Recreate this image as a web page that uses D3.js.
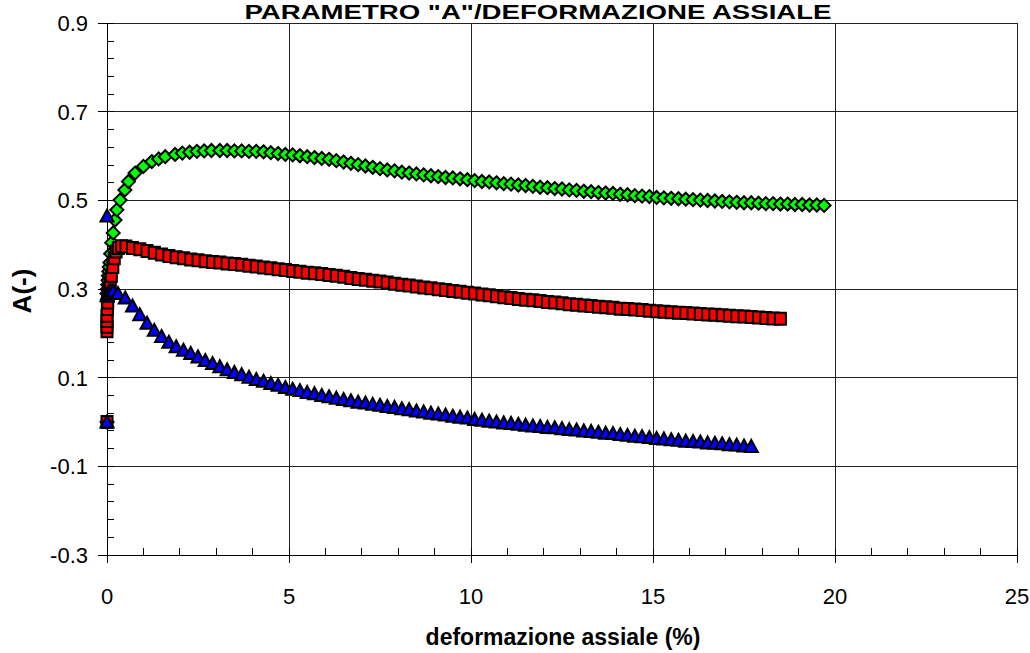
<!DOCTYPE html>
<html><head><meta charset="utf-8">
<script src="https://cdn.jsdelivr.net/npm/d3@7"></script>
<style>
html,body{margin:0;padding:0;background:#fff;}
svg{display:block;font-family:"Liberation Sans",Arial,sans-serif;}
</style></head><body>
<svg id="c" width="1030" height="653"></svg>
<script>
// ---------- data ----------
const titleText = 'PARAMETRO "A"/DEFORMAZIONE ASSIALE';
const xLabel = "deformazione assiale (%)";
const yLabel = "A(-)";
const xTicks = [0, 5, 10, 15, 20, 25];
const yTicks = [-0.3, -0.1, 0.1, 0.3, 0.5, 0.7, 0.9];

const greenX = [0, 0, 0.01, 0.02, 0.03, 0.04, 0.05, 0.06, 0.08, 0.1, 0.13, 0.17, 0.22, 0.27, 0.36, 0.49, 0.59, 0.77, 1.0, 1.23, 1.42, 1.6, 1.87, 2.07, 2.27, 2.47, 2.67, 2.87,
  3.1, 3.3, 3.5, 3.7, 3.9, 4.1, 4.3, 4.5, 4.7, 4.9,
  5.1, 5.3, 5.5, 5.7, 5.9, 6.1, 6.3, 6.5, 6.7, 6.9,
  7.1, 7.3, 7.5, 7.7, 7.9, 8.1, 8.3, 8.5, 8.7, 8.9,
  9.1, 9.3, 9.5, 9.7, 9.9, 10.1, 10.3, 10.5, 10.7, 10.9,
  11.1, 11.3, 11.5, 11.7, 11.9, 12.1, 12.3, 12.5, 12.7, 12.9,
  13.1, 13.3, 13.5, 13.7, 13.9, 14.1, 14.3, 14.5, 14.7, 14.9,
  15.1, 15.3, 15.5, 15.7, 15.9, 16.1, 16.3, 16.5, 16.7, 16.9,
  17.1, 17.3, 17.5, 17.7, 17.9, 18.1, 18.3, 18.5, 18.7, 18.9,
  19.1, 19.3, 19.5, 19.7];
const greenY = [0, 0.29, 0.30, 0.31, 0.32, 0.33, 0.34, 0.35, 0.36, 0.38, 0.405, 0.427, 0.456, 0.479, 0.501, 0.524, 0.543, 0.562, 0.577, 0.588, 0.594, 0.599, 0.604, 0.607, 0.609, 0.611, 0.612, 0.613,
  0.613, 0.613, 0.612, 0.612, 0.611, 0.611, 0.610, 0.608, 0.606, 0.604,
  0.603, 0.601, 0.599, 0.597, 0.595, 0.593, 0.590, 0.587, 0.584, 0.581,
  0.578, 0.575, 0.572, 0.569, 0.567, 0.564, 0.562, 0.560, 0.558, 0.556,
  0.554, 0.552, 0.551, 0.549, 0.547, 0.545, 0.543, 0.542, 0.540, 0.538,
  0.537, 0.535, 0.534, 0.532, 0.530, 0.529, 0.527, 0.526, 0.524, 0.523,
  0.521, 0.520, 0.518, 0.517, 0.516, 0.514, 0.513, 0.511, 0.510, 0.509,
  0.507, 0.506, 0.505, 0.504, 0.503, 0.502, 0.501, 0.500, 0.499, 0.498,
  0.497, 0.496, 0.495, 0.495, 0.494, 0.493, 0.493, 0.492, 0.492, 0.491,
  0.491, 0.490, 0.490, 0.489];

const redX = [0, 0, 0, 0, 0, 0.01, 0.02, 0.04, 0.06, 0.09, 0.12, 0.16, 0.2, 0.25, 0.31, 0.4, 0.52,
  0.7, 0.9, 1.1, 1.3, 1.5, 1.7, 1.9, 2.1, 2.3, 2.5,
  2.7, 2.9, 3.1, 3.3, 3.5, 3.7, 3.9, 4.1, 4.3, 4.5,
  4.7, 4.9, 5.1, 5.3, 5.5, 5.7, 5.9, 6.1, 6.3, 6.5,
  6.7, 6.9, 7.1, 7.3, 7.5, 7.7, 7.9, 8.1, 8.3, 8.5,
  8.7, 8.9, 9.1, 9.3, 9.5, 9.7, 9.9, 10.1, 10.3, 10.5,
  10.7, 10.9, 11.1, 11.3, 11.5, 11.7, 11.9, 12.1, 12.3, 12.5,
  12.7, 12.9, 13.1, 13.3, 13.5, 13.7, 13.9, 14.1, 14.3, 14.5,
  14.7, 14.9, 15.1, 15.3, 15.5, 15.7, 15.9, 16.1, 16.3, 16.5,
  16.7, 16.9, 17.1, 17.3, 17.5, 17.7, 17.9, 18.1, 18.3, 18.5];
const redY = [0, 0.205, 0.215, 0.228, 0.24, 0.255, 0.27, 0.285, 0.30, 0.315, 0.33, 0.35, 0.37, 0.385, 0.393, 0.397, 0.396,
  0.393, 0.390, 0.386, 0.382, 0.378, 0.375, 0.372, 0.370, 0.367, 0.365,
  0.363, 0.361, 0.360, 0.358, 0.357, 0.355, 0.353, 0.351, 0.349, 0.347,
  0.345, 0.343, 0.341, 0.339, 0.337, 0.336, 0.334, 0.332, 0.330, 0.328,
  0.325, 0.323, 0.321, 0.319, 0.317, 0.315, 0.312, 0.310, 0.308, 0.306,
  0.304, 0.302, 0.300, 0.298, 0.296, 0.294, 0.292, 0.290, 0.288, 0.286,
  0.284, 0.282, 0.280, 0.278, 0.276, 0.275, 0.273, 0.271, 0.270, 0.268,
  0.266, 0.265, 0.263, 0.262, 0.260, 0.259, 0.258, 0.256, 0.255, 0.254,
  0.253, 0.251, 0.250, 0.249, 0.248, 0.247, 0.246, 0.245, 0.244, 0.243,
  0.242, 0.241, 0.240, 0.239, 0.238, 0.237, 0.236, 0.235, 0.234, 0.233];

const blueX = [0, 0, 0, 0.02, 0.05, 0.1, 0.17, 0.3,
  0.5, 0.7, 0.9, 1.1, 1.3, 1.5, 1.7, 1.9, 2.1, 2.3,
  2.5, 2.7, 2.9, 3.1, 3.3, 3.5, 3.7, 3.9, 4.1, 4.3,
  4.5, 4.7, 4.9, 5.1, 5.3, 5.5, 5.7, 5.9, 6.1, 6.3,
  6.5, 6.7, 6.9, 7.1, 7.3, 7.5, 7.7, 7.9, 8.1, 8.3,
  8.5, 8.7, 8.9, 9.1, 9.3, 9.5, 9.7, 9.9, 10.1, 10.3,
  10.5, 10.7, 10.9, 11.1, 11.3, 11.5, 11.7, 11.9, 12.1, 12.3,
  12.5, 12.7, 12.9, 13.1, 13.3, 13.5, 13.7, 13.9, 14.1, 14.3,
  14.5, 14.7, 14.9, 15.1, 15.3, 15.5, 15.7, 15.9, 16.1, 16.3,
  16.5, 16.7, 16.9, 17.1, 17.3, 17.5, 17.7];
const blueY = [0, 0.465, 0.285, 0.29, 0.295, 0.297, 0.296, 0.29,
  0.280, 0.262, 0.242, 0.223, 0.207, 0.193, 0.180, 0.170, 0.162, 0.155,
  0.147, 0.139, 0.132, 0.125, 0.118, 0.112, 0.107, 0.101, 0.096, 0.092,
  0.087, 0.083, 0.078, 0.074, 0.071, 0.067, 0.064, 0.060, 0.057, 0.054,
  0.051, 0.048, 0.045, 0.043, 0.040, 0.038, 0.035, 0.033, 0.030, 0.028,
  0.025, 0.023, 0.020, 0.018, 0.016, 0.013, 0.011, 0.009, 0.006, 0.004,
  0.002, 0.000, -0.002, -0.003, -0.005, -0.007, -0.009, -0.010, -0.012, -0.013,
  -0.015, -0.017, -0.018, -0.020, -0.021, -0.023, -0.025, -0.026, -0.028, -0.030,
  -0.032, -0.033, -0.035, -0.037, -0.038, -0.040, -0.041, -0.043, -0.044, -0.045,
  -0.047, -0.048, -0.049, -0.051, -0.052, -0.054, -0.055];

// ---------- layout ----------
const svg = d3.select("#c");
const L = 107, R = 1017, T = 23.3, B = 555;
const x = d3.scaleLinear().domain([0, 25]).range([L, R]);
const y = d3.scaleLinear().domain([-0.3, 0.9]).range([B, T]);

// gridlines
const grid = svg.append("g").attr("stroke", "#222").attr("stroke-width", 1).attr("shape-rendering", "crispEdges");
grid.selectAll("line.h").data(yTicks.filter(v => v > -0.3)).join("line")
  .attr("x1", L).attr("x2", R).attr("y1", d => y(d)).attr("y2", d => y(d));
grid.selectAll("line.v").data(xTicks.filter(v => v > 0)).join("line")
  .attr("y1", T).attr("y2", B).attr("x1", d => x(d)).attr("x2", d => x(d));

// axes
const yMinor = d3.range(-0.3, 0.9001, 0.04);
const xMinor = d3.range(0, 25.001, 1);
const ax = svg.append("g").attr("stroke", "#000").attr("stroke-width", 1).attr("shape-rendering", "crispEdges");
ax.append("line").attr("x1", L).attr("x2", L).attr("y1", T).attr("y2", B);
ax.append("line").attr("x1", L).attr("x2", R).attr("y1", B).attr("y2", B);
ax.selectAll("line.ym").data(yMinor).join("line")
  .attr("x1", L).attr("x2", L + 7).attr("y1", d => y(d)).attr("y2", d => y(d));
ax.selectAll("line.yM").data(yTicks).join("line")
  .attr("x1", L - 9).attr("x2", L).attr("y1", d => y(d)).attr("y2", d => y(d));
ax.selectAll("line.xm").data(xMinor).join("line")
  .attr("y1", B - 7).attr("y2", B).attr("x1", d => x(d)).attr("x2", d => x(d));
ax.selectAll("line.xM").data(xTicks).join("line")
  .attr("y1", B).attr("y2", B + 8).attr("x1", d => x(d)).attr("x2", d => x(d));

// tick labels
svg.append("g").selectAll("text").data(yTicks).join("text")
  .attr("x", 88).attr("y", d => y(d)).attr("dy", "0.36em")
  .attr("text-anchor", "end").attr("font-size", 22).attr("fill", "#000")
  .text(d => d3.format(".1f")(d).replace("−", "-"));
svg.append("g").selectAll("text").data(xTicks).join("text")
  .attr("x", d => x(d)).attr("y", 604)
  .attr("text-anchor", "middle").attr("font-size", 22).attr("fill", "#000")
  .text(d => d);

// titles
svg.append("text").attr("x", 538).attr("y", 19).attr("text-anchor", "middle")
  .attr("font-size", 21).attr("font-weight", "bold")
  .attr("textLength", 587).attr("lengthAdjust", "spacingAndGlyphs").text(titleText);
svg.append("text").attr("x", 563).attr("y", 645).attr("text-anchor", "middle")
  .attr("font-size", 23).attr("font-weight", "bold").text(xLabel);
svg.append("text").attr("transform", "translate(31,291) rotate(-90)").attr("text-anchor", "middle")
  .attr("font-size", 26).attr("font-weight", "bold").text(yLabel);

// markers
const diamond = "M0,-6.5L6.5,0L0,6.5L-6.5,0Z";
const square = "M-5.5,-6H5.5V6H-5.5Z";
const tri = "M0,-6.5L6.5,5.5H-6.5Z";
function series(xs, ys, path, fill) {
  const pts = xs.map((v, i) => [v, ys[i]]);
  svg.append("g").selectAll("path").data(pts).join("path")
    .attr("d", path)
    .attr("transform", d => `translate(${x(d[0])},${y(d[1])})`)
    .attr("fill", fill).attr("stroke", "#000").attr("stroke-width", 2)
    .attr("stroke-linejoin", "miter");
}
series(greenX, greenY, diamond, "#00ff00");
series(redX, redY, square, "#ff0000");
series(blueX, blueY, tri, "#0000ff");
</script>
</body></html>
